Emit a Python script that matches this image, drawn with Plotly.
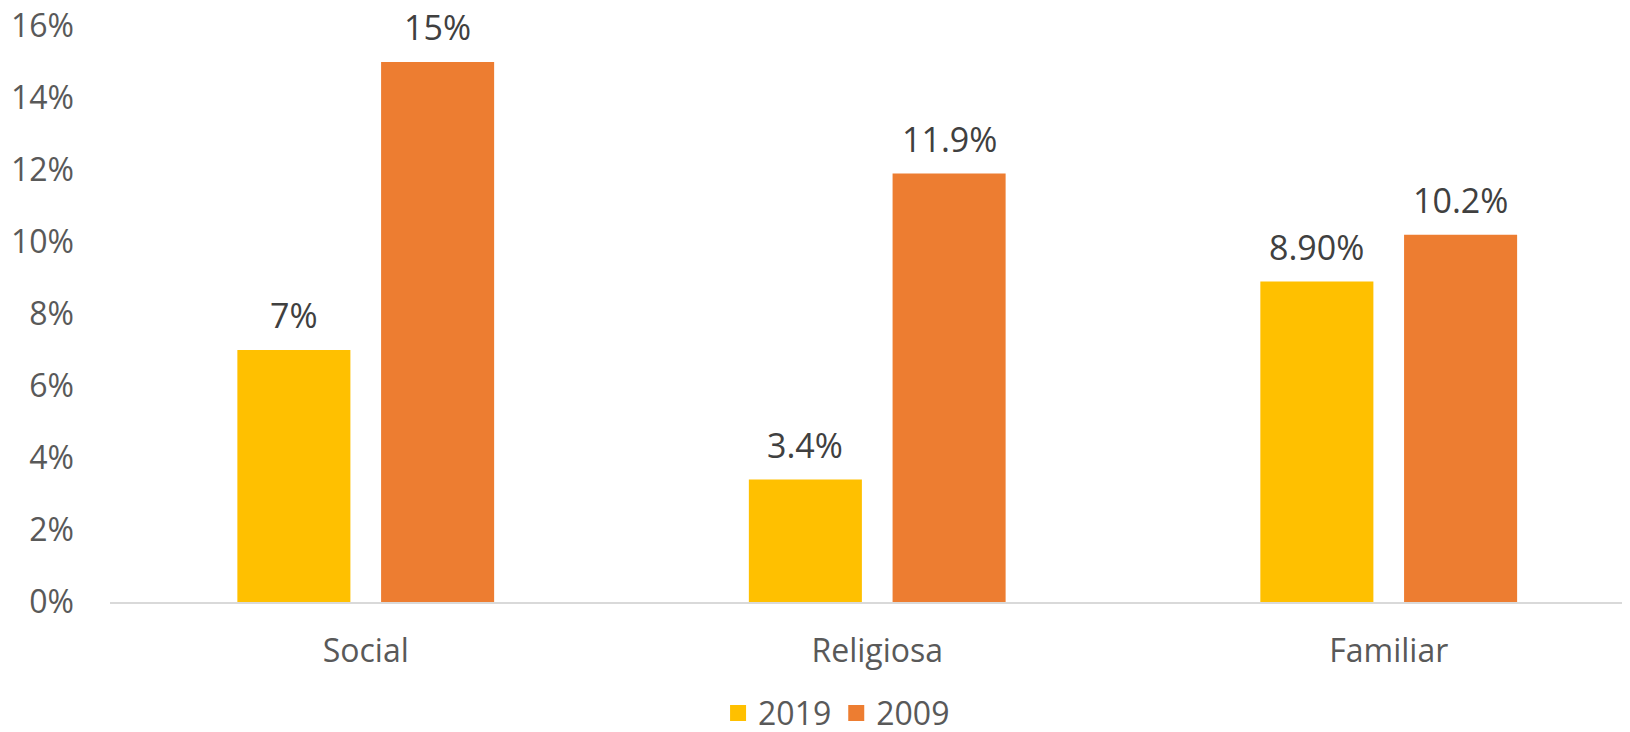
import plotly.graph_objects as go

categories = ["Social", "Religiosa", "Familiar"]
series_names = ["2019", "2009"]
values_2019 = [0.07, 0.034, 0.089]
values_2009 = [0.15, 0.119, 0.102]
labels_2019 = ["7%", "3.4%", "8.90%"]
labels_2009 = ["15%", "11.9%", "10.2%"]
colors = ["#FFC000", "#ED7D31"]

FONT = "Open Sans"
fig = go.Figure()
for name, vals, col in zip(series_names, [values_2019, values_2009], colors):
    fig.add_trace(go.Bar(x=categories, y=vals, name=name, marker_color=col,
                         marker_line_width=0, showlegend=False))
# legend entries with bigger square swatches than the bar default
for name, col in zip(series_names, colors):
    fig.add_trace(go.Scatter(x=[None], y=[None], mode="markers", name=name,
                             marker=dict(symbol="square", size=20, color=col)))

# data labels above bars (offset from group centre: quarter of the group slot)
bargap = 0.438
slot = (1 - bargap) / 2
for k, (vals, labs) in enumerate([(values_2019, labels_2019), (values_2009, labels_2009)]):
    off = (k - 0.5) * slot
    for i, (v, t) in enumerate(zip(vals, labs)):
        fig.add_annotation(x=i + off, y=v, text=t, showarrow=False,
                           yanchor="middle", yshift=35,
                           font=dict(family=FONT, size=34, color="#404040"))

# page body adds an 8px margin, so the figure is 8px smaller and shifted
fig.update_layout(
    width=1622, height=724,
    margin=dict(l=102, r=0, t=18, b=130, autoexpand=False),
    paper_bgcolor="white", plot_bgcolor="white",
    barmode="group", bargap=bargap, bargroupgap=0.2135,
    font=dict(family=FONT, size=32, color="#595959"),
    showlegend=True,
    legend=dict(orientation="h", x=0.478, xanchor="center", y=-0.193, yanchor="middle",
                font=dict(size=32, color="#595959"), itemwidth=30,
                traceorder="normal", itemsizing="trace"),
)
fig.update_xaxes(type="category", range=[-0.5, 2.4717], showline=True,
                 linecolor="#D9D9D9", linewidth=2, showgrid=False, ticks="",
                 automargin=False, ticklabelstandoff=20,
                 tickfont=dict(size=32, color="#595959"))
fig.update_yaxes(range=[0, 0.16], dtick=0.02, tickformat=".0%", showgrid=False,
                 zeroline=False, showline=False, automargin=False,
                 ticklabeloverflow="allow", ticklabelstandoff=35,
                 tickfont=dict(size=32, color="#595959"))

fig.write_html("out.html")
